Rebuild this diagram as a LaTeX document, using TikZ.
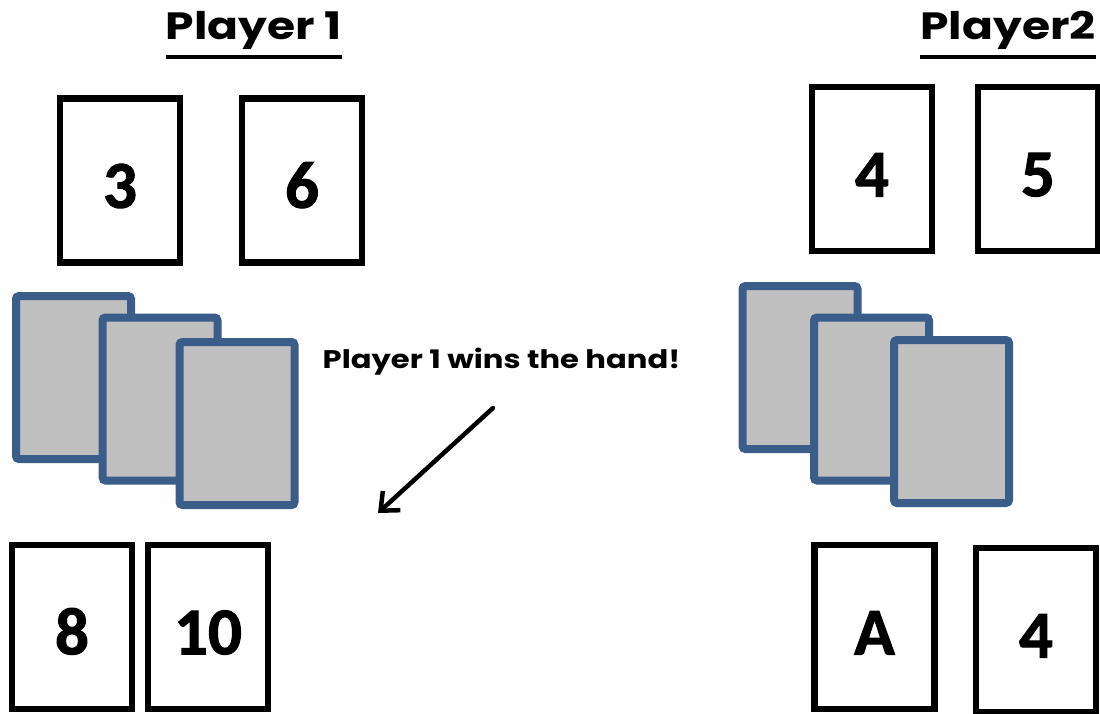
\documentclass[tikz,border=0pt]{standalone}
\usepackage{fontspec}
\setmainfont{Carlito}
\newfontfamily\cardfont{Carlito}[BoldFeatures={FakeBold=1.5}]
\newfontfamily\titlefont{Poppins}[FakeStretch=1.2]
\newfontfamily\msgfont{Poppins}[FakeStretch=1.2]
\usetikzlibrary{arrows.meta}
\definecolor{cardblue}{RGB}{58,93,138}
\definecolor{cardgray}{RGB}{192,192,192}
\begin{document}
\begin{tikzpicture}[x=1pt,y=-1pt,
faceup/.style={draw=black,line width=6.5pt,fill=white,minimum width=120pt,minimum height=164pt,
inner sep=0pt,text height=55pt,font=\cardfont\bfseries\fontsize{67}{67}\selectfont},
facedown/.style={draw=cardblue,line width=8pt,fill=cardgray,rounded corners=3pt,
minimum width=115pt,minimum height=163pt},
title/.style={font=\titlefont\bfseries\fontsize{38}{42}\selectfont,inner sep=0pt}]
\useasboundingbox (0,0) rectangle (1100,713);
% titles
\node[title,anchor=base] (t1) at (254,39) {Player 1};
\node[title,anchor=base] (t2) at (1008,39) {Player2};
\draw[line width=4pt] ([yshift=-18pt]t1.base west)--([yshift=-18pt]t1.base east);
\draw[line width=4pt] ([yshift=-18pt]t2.base west)--([yshift=-18pt]t2.base east);
% player 1
\node[faceup] (a1) at (120,180.5) {3};
\node[faceup] (a2) at (302,180.5) {6};
\node[facedown] (d1) at (73.5,377.5) {};
\node[facedown] (d2) at (160,399) {};
\node[facedown] (d3) at (237,423.5) {};
\node[faceup] (w1) at (72,627) {8};
\node[faceup] (w2) at (208,627) {10};
% player 2
\node[faceup] (b1) at (872,169) {4};
\node[faceup] (b2) at (1038,169) {5};
\node[facedown] (e1) at (800,367.5) {};
\node[facedown] (e2) at (871.5,399) {};
\node[facedown] (e3) at (951.5,421.5) {};
\node[faceup] (v1) at (874.5,627) {A};
\node[faceup] (v2) at (1036,630) {4};
% winner
\node[font=\msgfont\bfseries\fontsize{25.5}{28}\selectfont] (msg) at (501.5,362) {Player 1 wins the hand!};
\coordinate (from) at (493,408);
\coordinate (to) at (378,513);
\draw[line width=4.5pt,line cap=round,-{Straight Barb[length=15pt,width=26pt]}] (from)--(to);
\end{tikzpicture}
\end{document}
